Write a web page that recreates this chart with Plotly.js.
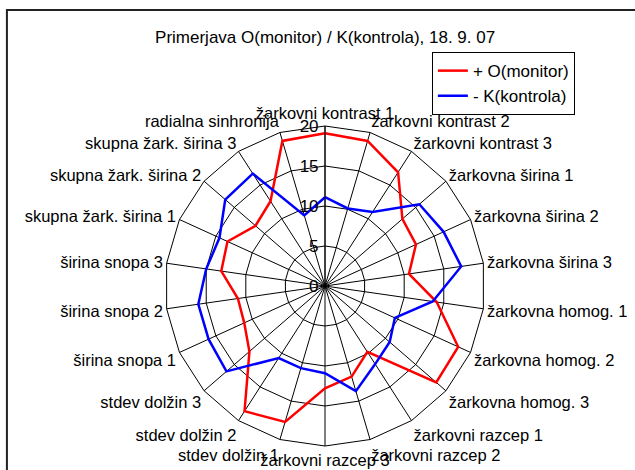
<!DOCTYPE html>
<html>
<head>
<meta charset="utf-8">
<script src="https://cdn.plot.ly/plotly-3.0.1.min.js"></script>
<style>
  html, body { margin: 0; padding: 0; background: #fff; }
  #chart { width: 635px; height: 470px; }
</style>
</head>
<body>
<div id="chart"></div>
<script>
var categories = [
  'žarkovni kontrast 1', 'žarkovni kontrast 2', 'žarkovni kontrast 3',
  'žarkovna širina 1', 'žarkovna širina 2', 'žarkovna širina 3',
  'žarkovna homog. 1', 'žarkovna homog. 2', 'žarkovna homog. 3',
  'žarkovni razcep 1', 'žarkovni razcep 2', 'žarkovni razcep 3',
  'stdev dolžin 1', 'stdev dolžin 2', 'stdev dolžin 3',
  'širina snopa 1', 'širina snopa 2', 'širina snopa 3',
  'skupna žark. širina 1', 'skupna žark. širina 2', 'skupna žark. širina 3',
  'radialna sinhronija'
];

var monitor = [19.1, 18.9, 16.9, 12.8, 12.5, 10.6, 14.1, 18.3, 18.4, 9.8, 11.8, 12.8,
               17.7, 18.6, 12.5, 11.1, 11.0, 13.1, 13.4, 11.5, 12.6, 18.9];
var kontrola = [11.1, 10.1, 11.0, 15.6, 16.3, 17.2, 13.6, 9.6, 10.7, 11.6, 13.7, 10.9,
                10.7, 10.7, 16.3, 16.0, 16.0, 15.0, 14.5, 16.5, 16.7, 9.2];

// close the polygons
function closed(a) { return a.concat([a[0]]); }

var trace1 = {
  type: 'scatterpolar',
  r: closed(monitor),
  theta: closed(categories),
  mode: 'lines',
  name: '+ O(monitor)',
  line: { color: '#ff0000', width: 2.5 }
};

var trace2 = {
  type: 'scatterpolar',
  r: closed(kontrola),
  theta: closed(categories),
  mode: 'lines',
  name: '- K(kontrola)',
  line: { color: '#0000ff', width: 2.5 }
};

var layout = {
  width: 635,
  height: 470,
  font: { family: 'Liberation Sans, Arial, sans-serif', size: 17, color: '#000' },
  title: {
    text: 'Primerjava O(monitor) / K(kontrola), 18. 9. 07',
    x: 0.512, xanchor: 'center', y: 0.922, yanchor: 'middle',
    font: { size: 17 }
  },
  margin: { l: 165, r: 150, t: 126, b: 24 },
  paper_bgcolor: '#fff',
  showlegend: true,
  legend: {
    x: 0.834, xanchor: 'left', y: 1.231, yanchor: 'top',
    bordercolor: '#000', borderwidth: 1, bgcolor: '#fff',
    font: { size: 17 }, itemwidth: 30, tracegroupgap: 0
  },
  polar: {
    domain: { x: [0, 1], y: [0, 1] },
    gridshape: 'linear',
    bgcolor: '#fff',
    radialaxis: {
      range: [0, 20], dtick: 5, angle: 90, tickangle: 90,
      side: 'counterclockwise',
      showline: true, linecolor: '#000', linewidth: 1,
      gridcolor: '#000', gridwidth: 1,
      ticks: '', tickfont: { size: 17 }
    },
    angularaxis: {
      rotation: 90, direction: 'clockwise',
      linecolor: '#000', linewidth: 1,
      gridcolor: '#000', gridwidth: 1,
      ticks: '', tickfont: { size: 16.5 }
    }
  },
  shapes: [{
    type: 'rect', xref: 'paper', yref: 'paper',
    x0: -0.494, x1: 1.484, y0: -0.09, y1: 1.3625,
    line: { color: '#222', width: 2 }
  }]
};

Plotly.newPlot('chart', [trace1, trace2], layout, { displayModeBar: false });
</script>
</body>
</html>
